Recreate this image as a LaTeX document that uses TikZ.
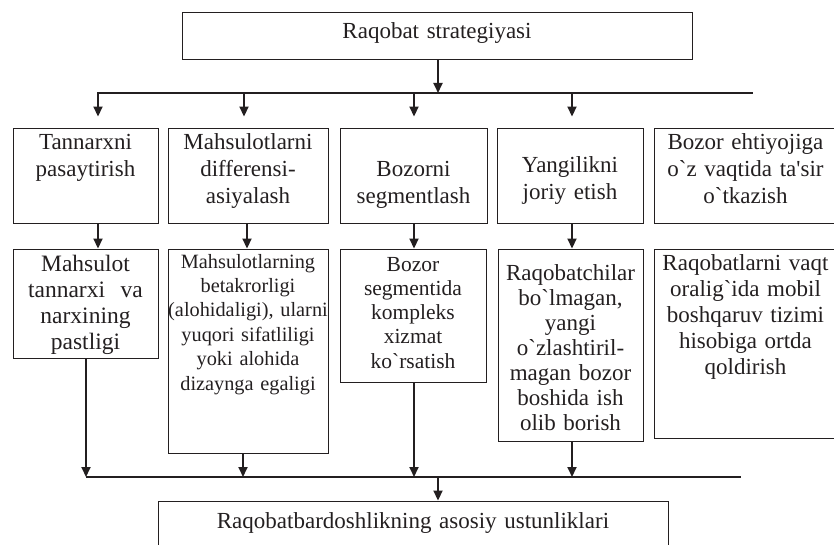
\documentclass[tikz,border=0pt]{standalone}
\usepackage{fontspec}
\setmainfont{Liberation Serif}[Ligatures=TeXOff]
\usetikzlibrary{arrows.meta,calc,fit}
\definecolor{ink}{HTML}{231F20}
\begin{document}
\begin{tikzpicture}[x=1pt,y=-1pt,
  box/.style={draw=ink, line width=0.9pt, inner sep=0pt, fill=none},
  txt/.style={align=center, inner sep=0pt, anchor=base, text=ink, text width=200pt},
  fs/.style 2 args={font=\fontsize{#1}{#2}\selectfont},
  arr/.style={draw=ink, line width=1.8pt, -{Triangle[length=10pt,width=9pt]}},
  bus/.style={draw=ink, line width=1.1pt}]
\useasboundingbox (0,0) rectangle (834,545);
\clip (0,0) rectangle (834,545);
% boxes
\node[box, fit={(182,12) (692,59)}] (T) {};
\node[box, fit={(13,128) (158,223)}] (A1) {};
\node[box, fit={(168,128) (328,223)}] (B1) {};
\node[box, fit={(340,128) (487,223)}] (C1) {};
\node[box, fit={(497,128) (643,223)}] (D1) {};
\node[box, fit={(654,128) (838,223)}] (E1) {};
\node[box, fit={(13,249) (158,358)}] (A2) {};
\node[box, fit={(168,249) (328,453)}] (B2) {};
\node[box, fit={(340,249) (486,382)}] (C2) {};
\node[box, fit={(498,249) (643,441)}] (D2) {};
\node[box, fit={(654,249) (838,438)}] (E2) {};
\node[box, fit={(158,501) (668,580)}] (F) {};
% texts
\node[txt, fs={23}{27}] (tT) at (437,39) {Raqobat strategiyasi};
\node[txt, fs={23}{27}] (tA1) at (85.5,150) {Tannarxni\\pasaytirish};
\node[txt, fs={23}{27}] (tB1) at (248,150) {Mahsulotlarni\\differensi-\\asiyalash};
\node[txt, fs={23}{27}] (tC1) at (413.5,177) {Bozorni\\segmentlash};
\node[txt, fs={23}{27}] (tD1) at (570,173) {Yangilikni\\joriy etish};
\node[txt, fs={23}{27}] (tE1) at (745.5,150) {Bozor ehtiyojiga\\o`z vaqtida ta'sir\\o`tkazish};
\node[txt, fs={23.5}{26}] (tA2) at (85.5,271) {Mahsulot\\tannarxi\ \ va\\narxining\\pastligi};
\node[txt, fs={20.3}{24.4}] (tB2) at (248,268) {Mahsulotlarning\\betakrorligi\\(alohidaligi), ularni\\yuqori sifatliligi\\yoki alohida\\dizaynga egaligi};
\node[txt, fs={21.5}{24.3}] (tC2) at (413,271) {Bozor\\segmentida\\kompleks\\xizmat\\ko`rsatish};
\node[txt, fs={23}{25}] (tD2) at (570.5,280) {Raqobatchilar\\bo`lmagan,\\yangi\\o`zlashtiril-\\magan bozor\\boshida ish\\olib borish};
\node[txt, fs={23}{26}] (tE2) at (745.5,270) {Raqobatlarni vaqt\\oralig`ida mobil\\boshqaruv tizimi\\hisobiga ortda\\qoldirish};
\node[txt, fs={23}{27}, text width=500pt] (tF) at (413,528) {Raqobatbardoshlikning asosiy ustunliklari};
% bus coordinates and columns
\coordinate (b1) at (97,93);
\coordinate (b1e) at (753,93);
\coordinate (b2) at (86,477);
\coordinate (b2e) at (741,477);
\coordinate (tA) at (98,0);
\coordinate (tB) at (244,0);
\coordinate (tC) at (414,0);
\coordinate (tD) at (572,0);
\coordinate (mA) at (98,0);
\coordinate (mB) at (247,0);
\coordinate (dA) at (86,0);
\coordinate (dB) at (243,0);
\coordinate (fX) at (438,0);
% connectors
\draw[bus] (b1) -- (b1e);
\draw[bus] (b2) -- (b2e);
\draw[arr] (T.south -| fX) -- (b1 -| fX);
\foreach \c/\n in {tA/A1, tB/B1, tC/C1, tD/D1}
  \draw[arr] (b1 -| \c) -- ($(\n.north -| \c)+(0,-11)$);
\draw[arr] (A1.south -| mA) -- (A2.north -| mA);
\draw[arr] (B1.south -| mB) -- (B2.north -| mB);
\draw[arr] (C1.south -| tC) -- (C2.north -| tC);
\draw[arr] (D1.south -| tD) -- (D2.north -| tD);
\draw[arr] (A2.south -| dA) -- (b2 -| dA);
\draw[arr] (B2.south -| dB) -- (b2 -| dB);
\draw[arr] (C2.south -| tC) -- (b2 -| tC);
\draw[arr] (D2.south -| tD) -- (b2 -| tD);
\draw[arr] (b2 -| fX) -- (F.north -| fX);
\end{tikzpicture}
\end{document}
